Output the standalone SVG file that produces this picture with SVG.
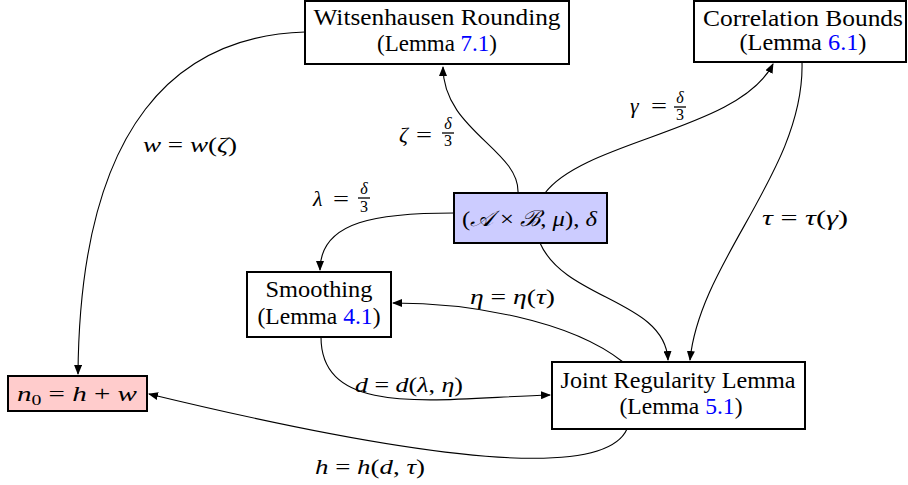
<svg xmlns="http://www.w3.org/2000/svg" width="908" height="485" viewBox="0 0 908 485">
<defs>
<marker id="arr" viewBox="0 0 10 8" refX="9" refY="4" markerWidth="10" markerHeight="8" markerUnits="userSpaceOnUse" orient="auto">
<path d="M0,0 L10,4 L0,8 Z" fill="#000"/>
</marker>
<style>
.box{stroke:#000;stroke-width:2;fill:#fff}
.t{font-family:"Liberation Serif","DejaVu Serif",serif;font-size:23px;fill:#000;text-anchor:middle}
.m{font-family:"Liberation Serif","DejaVu Serif",serif;font-size:22px;fill:#000}
.mi{font-style:italic}
.fr{font-family:"Liberation Serif","DejaVu Serif",serif;font-size:16px;fill:#000;text-anchor:middle}
.ref{fill:#0000ff}
.e{fill:none;stroke:#000;stroke-width:1.1;marker-end:url(#arr)}
.bar{stroke:#000;stroke-width:1.3}
</style>
</defs>
<g id="edges">
<path class="e" d="M305,32 C180,36 80,120 78,374"/>
<path class="e" d="M518,193 C520,150 443,130 443,67"/>
<path class="e" d="M545,193 C585,140 740,130 773,64"/>
<path class="e" d="M802,62 C805,170 700,260 690,360"/>
<path class="e" d="M454,213 C380,213 320,220 320,270"/>
<path class="e" d="M540,243 C565,300 665,300 668,360"/>
<path class="e" d="M623,362 C570,320 470,303 393,303"/>
<path class="e" d="M321,337 C321,420 440,398 550,395"/>
<path class="e" d="M627,429 C600,490 360,445 149,394"/>
</g>
<g id="labels">
<text class="m" x="143" y="152" textLength="94" lengthAdjust="spacingAndGlyphs"><tspan class="mi">w</tspan> = <tspan class="mi">w</tspan>(<tspan class="mi">ζ</tspan>)</text>
<text class="m mi" x="399" y="142">ζ</text><text class="m" x="416" y="142" textLength="16" lengthAdjust="spacingAndGlyphs">=</text>
<text class="fr mi" x="448" y="129">δ</text><line class="bar" x1="442" y1="133" x2="454" y2="133"/><text class="fr" x="448" y="146">3</text>
<text class="m mi" x="313" y="206">λ</text><text class="m" x="333" y="206" textLength="16" lengthAdjust="spacingAndGlyphs">=</text>
<text class="fr mi" x="364" y="194">δ</text><line class="bar" x1="358" y1="198" x2="370" y2="198"/><text class="fr" x="364" y="212">3</text>
<text class="m mi" x="630" y="113">γ</text><text class="m" x="651" y="113" textLength="16" lengthAdjust="spacingAndGlyphs">=</text>
<text class="fr mi" x="680" y="103">δ</text><line class="bar" x1="674" y1="107" x2="686" y2="107"/><text class="fr" x="680" y="120">3</text>
<text class="m" x="762" y="225" textLength="86" lengthAdjust="spacingAndGlyphs"><tspan class="mi">τ</tspan> = <tspan class="mi">τ</tspan>(<tspan class="mi">γ</tspan>)</text>
<text class="m" x="470" y="304" textLength="85" lengthAdjust="spacingAndGlyphs"><tspan class="mi">η</tspan> = <tspan class="mi">η</tspan>(<tspan class="mi">τ</tspan>)</text>
<text class="m" x="355" y="392" textLength="108" lengthAdjust="spacingAndGlyphs"><tspan class="mi">d</tspan> = <tspan class="mi">d</tspan>(<tspan class="mi">λ</tspan>, <tspan class="mi">η</tspan>)</text>
<text class="m" x="315" y="474" textLength="110" lengthAdjust="spacingAndGlyphs"><tspan class="mi">h</tspan> = <tspan class="mi">h</tspan>(<tspan class="mi">d</tspan>, <tspan class="mi">τ</tspan>)</text>
</g>
<g id="witsenhausen">
<rect class="box" x="305" y="1" width="264" height="63"/>
<text class="t" x="437" y="25" textLength="247" lengthAdjust="spacingAndGlyphs">Witsenhausen Rounding</text>
<text class="t" x="437" y="51" textLength="120" lengthAdjust="spacingAndGlyphs">(Lemma <tspan class="ref">7.1</tspan>)</text>
</g>
<g id="correlation">
<rect class="box" x="694" y="1" width="212" height="61"/>
<text class="t" x="803" y="26" textLength="200" lengthAdjust="spacingAndGlyphs">Correlation Bounds</text>
<text class="t" x="803" y="50" textLength="127" lengthAdjust="spacingAndGlyphs">(Lemma <tspan class="ref">6.1</tspan>)</text>
</g>
<g id="input">
<rect x="454" y="193" width="153" height="50" fill="#ccccff" stroke="#000" stroke-width="2"/>
<text class="m" x="462" y="226" textLength="135" lengthAdjust="spacingAndGlyphs">(<tspan class="mi">𝒜</tspan> × <tspan class="mi">ℬ</tspan>, <tspan class="mi">μ</tspan>), <tspan class="mi">δ</tspan></text>
</g>
<g id="smoothing">
<rect class="box" x="247" y="272" width="144" height="65"/>
<text class="t" x="319" y="297" textLength="107" lengthAdjust="spacingAndGlyphs">Smoothing</text>
<text class="t" x="319" y="324" textLength="123" lengthAdjust="spacingAndGlyphs">(Lemma <tspan class="ref">4.1</tspan>)</text>
</g>
<g id="joint">
<rect class="box" x="552" y="362" width="253" height="67"/>
<text class="t" x="678" y="388" textLength="235" lengthAdjust="spacingAndGlyphs">Joint Regularity Lemma</text>
<text class="t" x="681" y="414" textLength="123" lengthAdjust="spacingAndGlyphs">(Lemma <tspan class="ref">5.1</tspan>)</text>
</g>
<g id="n0">
<rect x="8" y="376" width="139" height="35" fill="#ffcccc" stroke="#000" stroke-width="2"/>
<text class="m" x="17" y="401" textLength="120" lengthAdjust="spacingAndGlyphs"><tspan class="mi">n</tspan><tspan font-size="15" dy="4">0</tspan><tspan dy="-4"> = </tspan><tspan class="mi">h</tspan> + <tspan class="mi">w</tspan></text>
</g>
</svg>
